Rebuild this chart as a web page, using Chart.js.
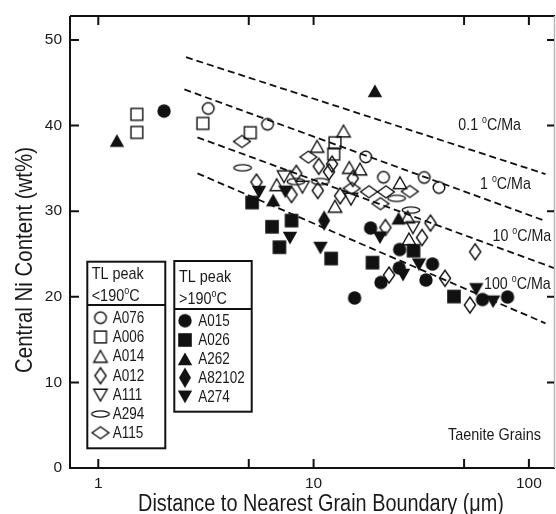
<!DOCTYPE html>
<html><head><meta charset="utf-8">
<script src="https://cdn.jsdelivr.net/npm/chart.js@4.4.1/dist/chart.umd.min.js"></script>
<style>html,body{margin:0;padding:0;background:#fff}canvas{display:block}</style>
</head><body>
<canvas id="c" width="556" height="514"></canvas>
<script>
// ---------- data ----------
const xTickValues = [1, 5, 10, 50, 100];
const xTickLabels = [1, 10, 100];
const yTickValues = [0, 10, 20, 30, 40, 50];

// TL peak < 190 °C (open symbols)
const A076_x = [3.24, 6.11, 17.46, 21.12, 32.64, 38.23];
const A076_y = [42.0, 40.15, 36.34, 33.96, 33.94, 32.76];
const A006_x = [1.51, 1.51, 3.06, 5.08, 12.57, 12.40];
const A006_y = [41.31, 39.20, 40.25, 39.17, 37.99, 36.67];
const A014_x = [13.77, 10.39, 6.74, 14.65, 16.43, 12.57, 25.19, 27.36, 27.74];
const A014_y = [39.35, 37.56, 33.08, 35.09, 34.91, 30.56, 33.31, 29.31, 26.74];
const A012_x = [5.43, 8.31, 7.90, 10.57, 10.46, 11.79, 12.18, 15.21, 13.29, 21.55, 34.91, 31.88, 22.40, 40.76, 56.30, 53.21];
const A012_y = [33.40, 34.41, 31.94, 35.24, 32.41, 34.60, 35.50, 33.83, 31.79, 28.09, 28.61, 26.92, 22.54, 22.16, 25.26, 19.04];
const A111_x = [7.29, 8.88, 14.92, 28.95];
const A111_y = [34.04, 32.82, 31.42, 28.09];
const A294_x = [4.68, 8.28, 10.76, 24.29, 28.34];
const A294_y = [35.07, 33.46, 33.46, 31.50, 30.13];
const A115_x = [4.65, 9.46, 15.03, 18.08, 21.69, 27.98, 20.45];
const A115_y = [38.14, 36.32, 32.66, 32.27, 32.26, 32.30, 30.88];

// TL peak > 190 °C (filled symbols)
const A015_x = [2.02, 18.40, 25.11, 35.66, 24.98, 20.56, 33.27, 15.50, 60.87, 79.55];
const A015_y = [41.69, 28.03, 25.52, 23.83, 23.36, 21.67, 21.96, 19.86, 19.68, 19.97];
const A026_x = [5.18, 6.41, 7.90, 6.94, 12.07, 18.77, 29.11, 44.88];
const A026_y = [31.01, 28.18, 28.90, 25.79, 24.47, 23.99, 25.38, 20.03];
const A262_x = [1.22, 19.27, 6.49, 24.82];
const A262_y = [38.24, 44.05, 31.29, 29.16];
const A82102_x = [11.20];
const A82102_y = [28.90];
const A274_x = [5.58, 7.39, 7.77, 10.76, 20.34, 30.87, 26.02, 56.97, 68.20];
const A274_y = [32.24, 32.27, 26.87, 25.70, 26.92, 23.77, 22.55, 20.88, 19.43];

// cooling-rate curves (°C/Ma)
const rateLabels = ['0.1', '1', '10', '100'];
const rateX0 = [2.555, 2.512, 2.889, 2.889];
const rateY0 = [47.99, 44.22, 38.62, 34.42];
const rateX1 = [119.4, 119.4, 132.2, 119.4];
const rateY1 = [34.33, 28.85, 23.32, 16.90];

const lowGroup = ['A076', 'A006', 'A014', 'A012', 'A111', 'A294', 'A115'];
const highGroup = ['A015', 'A026', 'A262', 'A82102', 'A274'];

// ---------- fonts ----------
const INK = '#111';
const TXT = '#1a1a1a';
const mctx = document.createElement('canvas').getContext('2d');
function hasFont(f) {
  const s = 'Distance Grain 0123 Ma';
  mctx.font = '40px monospace'; const a = mctx.measureText(s).width;
  mctx.font = '40px "' + f + '", monospace'; const b = mctx.measureText(s).width;
  return Math.abs(a - b) > 0.5;
}
const NARROW = hasFont('Liberation Sans Narrow');
const FAM = NARROW ? '"Liberation Sans Narrow", "Liberation Sans", Arial, sans-serif'
                   : '"Liberation Sans", Arial, sans-serif';
const K = NARROW ? 1 : 0.85;           // horizontal condensing for drawn text
const S = n => NARROW ? n : n * 0.97;
function fitPx(text, target) {
  mctx.font = '100px ' + FAM;
  return 100 * target / (mctx.measureText(text).width * K);
}
const TICK = NARROW ? 16.4 : 15.5;

// ---------- marker sprites ----------
function sprite(fn) {
  const c = document.createElement('canvas'); c.width = 26; c.height = 26;
  const g = c.getContext('2d'); g.translate(13, 13);
  g.lineWidth = 1.4; g.strokeStyle = INK; g.fillStyle = INK; g.lineJoin = 'miter';
  fn(g); return c;
}
function poly(g, pts, fill) {
  g.beginPath(); g.moveTo(pts[0][0], pts[0][1]);
  for (let i = 1; i < pts.length; i++) g.lineTo(pts[i][0], pts[i][1]);
  g.closePath(); fill ? g.fill() : g.stroke();
}
const SP = {
  circleO: sprite(g => { g.beginPath(); g.arc(0, 0, 5.8, 0, 2 * Math.PI); g.stroke(); }),
  squareO: sprite(g => g.strokeRect(-5.9, -5.9, 11.8, 11.8)),
  triUpO: sprite(g => poly(g, [[0, -6], [6.7, 5.7], [-6.7, 5.7]])),
  diaTallO: sprite(g => poly(g, [[0, -8], [5.6, 0], [0, 8], [-5.6, 0]])),
  triDnO: sprite(g => poly(g, [[0, 6], [6.7, -5.7], [-6.7, -5.7]])),
  ellO: sprite(g => { g.beginPath(); g.ellipse(0, 0, 8.8, 3.1, 0, 0, 2 * Math.PI); g.stroke(); }),
  diaWideO: sprite(g => poly(g, [[0, -6], [8.4, 0], [0, 6], [-8.4, 0]])),
  circleF: sprite(g => { g.beginPath(); g.arc(0, 0, 6.7, 0, 2 * Math.PI); g.fill(); }),
  squareF: sprite(g => g.fillRect(-6.8, -6.8, 13.6, 13.6)),
  triUpF: sprite(g => poly(g, [[0, -6.5], [7.2, 6.3], [-7.2, 6.3]], true)),
  diaTallF: sprite(g => poly(g, [[0, -10.3], [6, 0], [0, 10.3], [-6, 0]], true)),
  triDnF: sprite(g => poly(g, [[0, 6.5], [7.2, -6.3], [-7.2, -6.3]], true)),
};

const series = [
  { name: 'A076', x: A076_x, y: A076_y, s: SP.circleO },
  { name: 'A006', x: A006_x, y: A006_y, s: SP.squareO },
  { name: 'A014', x: A014_x, y: A014_y, s: SP.triUpO },
  { name: 'A012', x: A012_x, y: A012_y, s: SP.diaTallO },
  { name: 'A111', x: A111_x, y: A111_y, s: SP.triDnO },
  { name: 'A294', x: A294_x, y: A294_y, s: SP.ellO },
  { name: 'A115', x: A115_x, y: A115_y, s: SP.diaWideO },
  { name: 'A015', x: A015_x, y: A015_y, s: SP.circleF },
  { name: 'A026', x: A026_x, y: A026_y, s: SP.squareF },
  { name: 'A262', x: A262_x, y: A262_y, s: SP.triUpF },
  { name: 'A82102', x: A82102_x, y: A82102_y, s: SP.diaTallF },
  { name: 'A274', x: A274_x, y: A274_y, s: SP.triDnF },
];

const datasets = [];
rateLabels.forEach((r, i) => datasets.push({
  type: 'line', label: r + ' °C/Ma',
  data: [{ x: rateX0[i], y: rateY0[i] }, { x: rateX1[i], y: rateY1[i] }],
  borderColor: INK, borderWidth: 1.8, borderDash: [7, 4], pointRadius: 0,
  fill: false, showLine: true, order: 10, tension: 0
}));
series.forEach(s => datasets.push({
  type: 'scatter', label: s.name,
  data: s.x.map((v, i) => ({ x: v, y: s.y[i] })),
  pointStyle: s.s, pointRadius: 6, order: 0
}));

// ---------- drawing helpers ----------
function txt(ctx, s, x, y, size, align, baseline) {
  ctx.save();
  ctx.font = size + 'px ' + FAM; ctx.textAlign = align || 'left';
  ctx.textBaseline = baseline || 'alphabetic'; ctx.fillStyle = TXT;
  ctx.translate(x, y); ctx.scale(K, 1); ctx.fillText(s, 0, 0);
  ctx.restore();
}
function drawRich(ctx, parts, x, y, size, align) {
  const ws = parts.map(p => { ctx.font = (p[1] ? size * 0.62 : size) + 'px ' + FAM; return ctx.measureText(p[0]).width * K; });
  const tot = ws.reduce((a, b) => a + b, 0);
  let cx = align === 'right' ? x - tot : align === 'center' ? x - tot / 2 : x;
  parts.forEach((p, i) => {
    txt(ctx, p[0], cx, p[1] ? y - size * 0.42 : y, p[1] ? size * 0.62 : size, 'left', 'alphabetic');
    cx += ws[i];
  });
}

const rateText = [
  { parts: [['0.1 ', 0], ['o', 1], ['C/Ma', 0]], x: 458.3, y: 130 },
  { parts: [['1 ', 0], ['o', 1], ['C/Ma', 0]], x: 480, y: 189.3 },
  { parts: [['10 ', 0], ['o', 1], ['C/Ma', 0]], x: 492.5, y: 240.7 },
  { parts: [['100 ', 0], ['o', 1], ['C/Ma', 0]], x: 484, y: 289 },
];

const legendBoxes = [
  { rect: [87.3, 261.7, 165.3, 448.3], div: 305, head: [[['TL peak', 0]], [['<190', 0], ['o', 1], ['C', 0]]],
    headX: 91.7, headY: [279.3, 301.3], symX: 100.5, textX: 112.7,
    rows: [317.7, 337, 356.5, 375.7, 395, 414, 432.7], names: lowGroup },
  { rect: [174.3, 261, 251.7, 411.7], div: 309, head: [[['TL peak', 0]], [['>190', 0], ['o', 1], ['C', 0]]],
    headX: 179, headY: [281.7, 304], symX: 185, textX: 198.3,
    rows: [320.7, 340, 359, 377.7, 396.7], names: highGroup },
];

const decorPlugin = {
  id: 'decor',
  afterDraw(chart) {
    const ctx = chart.ctx, a = chart.chartArea;
    const xs = chart.scales.x, ys = chart.scales.y;
    ctx.save();
    // frame
    ctx.strokeStyle = INK; ctx.lineWidth = 2;
    ctx.beginPath();
    ctx.moveTo(a.left, a.top); ctx.lineTo(a.left, a.bottom); ctx.lineTo(a.right, a.bottom);
    ctx.moveTo(a.left, a.top); ctx.lineTo(a.right, a.top);
    ctx.stroke();
    ctx.strokeStyle = '#b8b8b8'; ctx.lineWidth = 1.5;
    ctx.beginPath(); ctx.moveTo(a.right - 0.5, a.top); ctx.lineTo(a.right - 0.5, a.bottom); ctx.stroke();
    // inward ticks
    ctx.strokeStyle = INK; ctx.lineWidth = 2;
    const TL = 9;
    ctx.beginPath();
    xTickValues.forEach(v => {
      const px = xs.getPixelForValue(v);
      ctx.moveTo(px, a.bottom); ctx.lineTo(px, a.bottom - TL);
      ctx.moveTo(px, a.top); ctx.lineTo(px, a.top + TL);
    });
    yTickValues.forEach(v => {
      const py = ys.getPixelForValue(v);
      ctx.moveTo(a.left, py); ctx.lineTo(a.left + TL, py);
      ctx.moveTo(a.right - 1, py); ctx.lineTo(a.right - 1 - TL + 2, py);
    });
    ctx.stroke();

    // axis titles
    const xt = 'Distance to Nearest Grain Boundary (\u03bcm)';
    txt(ctx, xt, 321, 510.5, fitPx(xt, 366), 'center', 'alphabetic');
    const yt = 'Central Ni Content (wt%)';
    ctx.save();
    ctx.translate(31.7, 260); ctx.rotate(-Math.PI / 2);
    txt(ctx, yt, 0, 0, fitPx(yt, 226), 'center', 'alphabetic');
    ctx.restore();

    // cooling-rate labels
    rateText.forEach(t => drawRich(ctx, t.parts, t.x, t.y, S(17.3), 'left'));
    // note
    txt(ctx, 'Taenite Grains', 541, 440, S(17.5), 'right', 'alphabetic');

    // legend boxes
    legendBoxes.forEach(b => {
      const [x0, y0, x1, y1] = b.rect;
      ctx.fillStyle = '#fff'; ctx.fillRect(x0, y0, x1 - x0, y1 - y0);
      ctx.strokeStyle = INK; ctx.lineWidth = 2;
      ctx.strokeRect(x0, y0, x1 - x0, y1 - y0);
      ctx.beginPath(); ctx.moveTo(x0, b.div); ctx.lineTo(x1, b.div); ctx.stroke();
      b.head.forEach((h, i) => drawRich(ctx, h, b.headX, b.headY[i], S(17.5), 'left'));
      b.names.forEach((n, i) => {
        const ds = chart.data.datasets.find(d => d.label === n);
        const img = ds.pointStyle;
        ctx.drawImage(img, b.symX - img.width / 2, b.rows[i] - img.height / 2);
        txt(ctx, n, b.textX, b.rows[i] + 0.5, S(16.4), 'left', 'middle');
      });
    });
    ctx.restore();
  }
};

Chart.defaults.font.family = FAM;
Chart.defaults.color = TXT;

new Chart(document.getElementById('c'), {
  type: 'scatter',
  data: { datasets },
  options: {
    responsive: false, animation: false, events: [], devicePixelRatio: 1,
    layout: { autoPadding: false, padding: { left: 0, top: 16, right: 1, bottom: 0 } },
    plugins: { legend: { display: false }, tooltip: { enabled: false } },
    scales: {
      x: {
        type: 'logarithmic', bounds: 'data', min: 0.739, max: 132.2,
        afterBuildTicks: s => { s.ticks = xTickValues.map(v => ({ value: v })); },
        afterFit: s => { s.height = 46; s.paddingLeft = 0; s.paddingRight = 0; },
        grid: { display: false, drawTicks: false }, border: { display: false },
        ticks: {
          autoSkip: false, maxRotation: 0, minRotation: 0, color: TXT,
          padding: 15.5 - TICK * 0.6,
          font: { family: FAM, size: TICK },
          callback: v => xTickLabels.includes(v) ? String(v) : ''
        }
      },
      y: {
        type: 'linear', bounds: 'data', min: 0, max: 52.8,
        afterBuildTicks: s => { s.ticks = yTickValues.map(v => ({ value: v })); },
        afterFit: s => { s.width = 70; s.paddingTop = 0; s.paddingBottom = 0; },
        grid: { display: false, drawTicks: false }, border: { display: false },
        ticks: { padding: 8, color: TXT, font: { family: FAM, size: TICK } }
      }
    }
  },
  plugins: [decorPlugin]
});
</script>
</body></html>
